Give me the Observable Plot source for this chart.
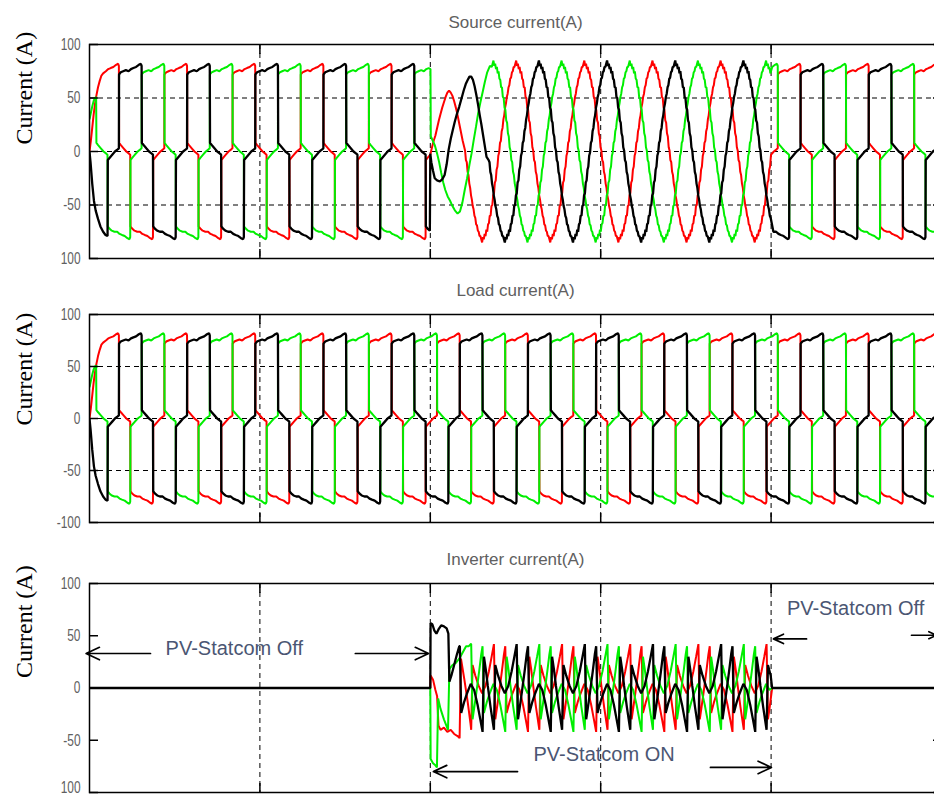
<!DOCTYPE html>
<html><head><meta charset="utf-8">
<script src="https://cdn.jsdelivr.net/npm/d3@7"></script>
<script src="https://cdn.jsdelivr.net/npm/@observablehq/plot@0.6"></script>
<style>
html,body{margin:0;padding:0;background:#fff;overflow:hidden;width:934px;height:798px;}
#chart{position:relative;width:934px;height:798px;overflow:hidden;background:#fff;}
.panel{position:absolute;left:0;}
</style></head><body><div id="chart"></div>
<script>
// ================= DATA =================
const periodMs = 20;                       // one mains cycle
const xDomainMs = [0, 250];
const xGridMs = [50, 100, 150, 200];
const yTickValues = [-100, -50, 0, 50, 100];
const srcTickLabels  = ["100", "-50", "0", "50", "100"];
const loadTickLabels = ["-100", "-50", "0", "50", "100"];
const invTickLabels  = ["100", "-50", "0", "50", "100"];
const titles = ["Source current(A)", "Load current(A)", "Inverter current(A)"];
const yLabel = "Current (A)";
// phase order = drawing order: red, green, black
const phaseColors = ["#ff0000", "#00ee00", "#000000"];

// load (rectifier) current: start of positive conduction of each phase, ms
const loadStartMs = [2.0, 15.33, 8.67];
// one cycle of load current, time from start of positive conduction (ms) / value (A)
const loadShapeT = [0, 0.5, 1.2, 2.0, 2.8, 3.5, 4.2, 5.0, 5.8, 6.4, 6.62, 6.7, 7.2, 8.0, 8.8, 9.6, 9.95,
                    10.03, 10.5, 11.2, 12.0, 12.8, 13.5, 14.2, 15.0, 15.8, 16.4, 16.62, 16.7, 17.2, 18.0, 18.8, 19.6, 19.95];
const loadShapeV = [72, 74, 75, 76, 75, 77, 78, 79, 81, 82, 80, 8, 6, 3, 0, -2, -3,
                    -70, -72, -74, -75, -75, -77, -78, -79, -81, -82, -80, -8, -6, -3, 0, 2, 3];
// start-up of the load current (t, A)
const loadStartupRed   = [[0,0],[0.4,10],[0.8,22],[1.2,34],[1.6,44],[2.0,52],[2.5,60],[3.0,66],[3.5,71],[4.0,73]];
const loadStartupGreen = [[0,30],[0.4,36],[0.8,42],[1.2,47],[1.6,50],[1.95,51]];
const loadStartupBlack = [[0,0],[0.3,-10],[0.8,-30],[1.3,-46],[1.8,-55],[2.5,-63],[3.2,-70],[4.0,-75],[4.7,-78],[5.3,-79]];
const loadJoinMs = [4.1, 1.96, 5.3];

// compensated source current: time of positive peak of each phase (ms)
const srcPeakMs = [5.2, 18.53, 11.87];
// one cycle, every 0.25 ms from the positive peak (A), with the switching ripple
const srcShapeStepMs = 0.25;
const srcShapeV = [
  85, 80, 82, 77, 79, 73, 75, 68, 67, 60, 60, 51, 50, 41, 39, 29, 27, 17, 14, 4, 1,
  -8, -10, -19, -22, -30, -34, -41, -45, -51, -54, -60, -62, -68, -69, -74, -75, -79, -79, -82, -85,
  -80, -82, -77, -79, -73, -75, -68, -67, -60, -60, -51, -50, -41, -39, -29, -27, -17, -14, -4, -1,
  8, 10, 19, 22, 30, 34, 41, 45, 51, 54, 60, 62, 68, 69, 74, 75, 79, 79, 82];
// transient of the source current when the PV-Statcom switches on (t, A)
const srcTransRed = [[100.0,-3],[100.5,4],[101.0,10],[101.5,15],[102.0,22],[102.5,29],[103.0,35],[103.5,41],[104.0,46],
  [104.5,51],[105.0,55],[105.5,57],[106.0,55],[106.5,52],[107.0,47],[107.5,41],[108.0,34],[108.5,26],[109.0,18],[109.5,10]];
const srcTransGreen = [[100.05,77],[100.15,14],[100.6,11],[101.3,6],[102.0,-2],[102.6,-10],[103.2,-20],[103.8,-29],[104.4,-36],
  [105.1,-42],[105.8,-46],[106.5,-51],[107.2,-55],[108.0,-58],[108.7,-56],[109.4,-48],[110.1,-36],[110.8,-25],[111.5,-12],
  [112.1,-2],[112.7,10],[113.4,23],[114.0,35],[114.7,46],[115.4,56],[116.0,65],[116.7,74],[117.5,80]];
const srcTransBlack = [[100.0,-2],[100.3,-10],[100.8,-18],[101.3,-25],[102.0,-27],[102.8,-28],[103.5,-26],[104.2,-22],
  [104.8,-12],[105.4,2],[106.0,12],[106.6,20],[107.2,28],[107.8,35],[108.5,42],[109.2,50],[109.8,57],[110.4,63],[111.0,67],
  [111.5,70],[112.0,70],[112.5,67],[113.0,61],[113.5,53],[114.0,44],[114.5,34],[115.0,25],[115.5,15],[116.0,5],[116.5,-5]];
const srcJoinMs = [110.0, 118.0, 117.0];

// inverter current: one cycle, time from start of positive load conduction (ms) / value (A)
const invShapeT = [0, 0.4, 1.2, 2.0, 3.2, 4.2, 5.2, 6.0, 6.67, 7.07, 7.6, 8.2, 9.0, 10.0,
                   10.4, 11.2, 12.2, 13.2, 14.2, 15.2, 16.0, 16.67, 17.07, 17.6, 18.2, 19.0, 19.6];
const invShapeV = [40, -24, -14, -6, 4, -2, -16, -30, -42, 30, 18, 2, -18, -40,
                   22, 12, 2, -5, 2, 16, 30, 42, -30, -18, -4, 16, 32];
const invTransRed = [[100,0],[100.08,12],[100.8,8],[101.5,-2],[102.0,-8],[102.4,-36],[103.0,-40],[104.0,-38],[105.0,-42],
  [106.0,-40],[107.0,-44],[108.0,-46],[108.6,-48],[109.0,28],[110.0,8],[111.0,-14],[111.8,-34]];
const invTransGreen = [[100,0],[100.1,-68],[100.8,-72],[101.5,-74],[101.95,-76],[102.3,-10],[103.0,-20],[104.0,-30],
  [105.2,-40],[105.6,18],[106.5,22],[107.5,24],[108.5,28],[109.5,34],[110.5,40],[111.3,40],[111.85,42]];
const invTransBlack = [[100,0],[100.08,62],[100.6,61],[101.2,55],[101.8,52],[102.4,56],[103.2,60],[104.0,59],[104.8,57],
  [105.3,52],[105.6,6],[106.2,12],[107.0,22],[107.8,32],[108.5,40]];
const invJoinMs = [111.95, 111.95, 108.6];

// annotations of the inverter panel (ms, A)
const annotTexts = [
  {t: 42.5, v: 38, label: "PV-Statcom Off"},
  {t: 151, v: -64, label: "PV-Statcom ON"},
  {t: 224.8, v: 76, label: "PV-Statcom Off"}
];
const annotArrows = [
  {t1: 17.9, v1: 33, t2: -1, v2: 33},
  {t1: 78, v1: 33, t2: 99.5, v2: 33},
  {t1: 125.6, v1: -80, t2: 100.9, v2: -80},
  {t1: 182.2, v1: -76, t2: 200.1, v2: -76},
  {t1: 210.4, v1: 47, t2: 200.7, v2: 47},
  {t1: 241.2, v1: 50.5, t2: 248.5, v2: 50.5}
];

// ================= BUILD SERIES =================
const pts = arr => arr.map(([t, v]) => ({t, v}));
const srcShapeT = srcShapeV.map((_, i) => i * srcShapeStepMs);
function periodic(shapeT, shapeV, offset, t0, t1) {
  const out = [];
  const k0 = Math.floor((t0 - offset) / periodMs) - 1;
  const k1 = Math.ceil((t1 - offset) / periodMs) + 1;
  for (let k = k0; k <= k1; k++)
    for (let i = 0; i < shapeT.length; i++) {
      const t = offset + k * periodMs + shapeT[i];
      if (t > t0 && t < t1) out.push({t, v: shapeV[i]});
    }
  return out;
}
const loadStartups = [loadStartupRed, loadStartupGreen, loadStartupBlack];
const srcTrans = [srcTransRed, srcTransGreen, srcTransBlack];
const invTrans = [invTransRed, invTransGreen, invTransBlack];

const loadSeries = [0,1,2].map(i => [
  ...pts(loadStartups[i]),
  ...periodic(loadShapeT, loadShapeV, loadStartMs[i], loadJoinMs[i], 251)
]);
const srcSeries = [0,1,2].map(i => [
  ...loadSeries[i].filter(p => p.t < 99.98),
  ...pts(srcTrans[i]),
  ...periodic(srcShapeT, srcShapeV, srcPeakMs[i], srcJoinMs[i], 200),
  ...loadSeries[i].filter(p => p.t >= 200)
]);
const invSeries = [0,1,2].map(i => [
  {t: 0, v: 0},
  ...pts(invTrans[i]),
  ...periodic(invShapeT, invShapeV, loadStartMs[i], invJoinMs[i], 200),
  {t: 200.3, v: 0}, {t: 251, v: 0}
]);

// ================= DRAW =================
const SANS = "'Liberation Sans',Arial,sans-serif";
const W = 960, ML = 89, MR = 19;

// narrow lettering: squeeze by a factor, or to a width in px
function squeeze(svg, selector, factor, spacing, widths) {
  svg.querySelectorAll(selector).forEach((el, i) => {
    if (spacing) el.style.letterSpacing = spacing + "px";
    const len = el.getComputedTextLength();
    if (len > 0) {
      const target = widths ? widths[i] : len * factor;
      el.setAttribute("textLength", target.toFixed(2));
      el.setAttribute("lengthAdjust", "spacingAndGlyphs");
    }
  });
}

function makePanel(cfg) {
  const marks = [];
  if (cfg.hGrid) marks.push(Plot.ruleY(yTickValues, {stroke: "#000", strokeWidth: 1, strokeDasharray: "5,4"}));
  marks.push(Plot.ruleX(xGridMs, {stroke: "#000", strokeWidth: 1, strokeDasharray: "5,4"}));
  cfg.series.forEach((s, i) => marks.push(Plot.line(s, {
    x: "t", y: "v", stroke: phaseColors[i], strokeWidth: i === 2 ? 2.3 : 2, clip: true,
    strokeLinejoin: "miter", strokeLinecap: "butt"
  })));
  if (cfg.annot) {
    marks.push(Plot.arrow(annotArrows, {x1: "t1", y1: "v1", x2: "t2", y2: "v2", stroke: "#000",
      strokeWidth: 1.7, headLength: 13, headAngle: 50}));
    marks.push(Plot.text(annotTexts, {x: "t", y: "v", text: "label", fill: "#4b5673",
      fontSize: 20, fontFamily: SANS, ariaLabel: "annot"}));
  }
  marks.push(Plot.frame({stroke: "#000", strokeWidth: 1.5}));
  const lab = new Map(yTickValues.map((d, i) => [d, cfg.tickLabels[i]]));
  marks.push(Plot.axisY(yTickValues, {anchor: "left", tickSize: -9, tickPadding: 18,
    tickFormat: d => lab.get(d), stroke: "#000", strokeWidth: 1.5, fill: "#606060",
    fontSize: 17, fontFamily: SANS, label: null}));
  marks.push(Plot.axisY(yTickValues, {anchor: "right", tickSize: -9, tickFormat: () => "",
    stroke: "#000", strokeWidth: 1.5, label: null}));
  marks.push(Plot.axisX(xGridMs, {anchor: "top", tickSize: -9, tickFormat: () => "",
    stroke: "#000", strokeWidth: 1.5, label: null}));
  marks.push(Plot.axisX(xGridMs, {anchor: "bottom", tickSize: -9, tickFormat: () => "",
    stroke: "#000", strokeWidth: 1.5, label: null}));
  marks.push(Plot.text([cfg.title], {frameAnchor: "top", dy: cfg.titleDy, text: d => d,
    fill: "#606060", fontSize: 17, fontFamily: SANS, lineAnchor: "middle", ariaLabel: "title"}));
  marks.push(Plot.text([yLabel], {frameAnchor: "left", dx: -65, dy: cfg.labelDy, rotate: -90, text: d => d,
    fill: "#000", fontSize: 24, fontFamily: "'Liberation Serif','DejaVu Serif',serif", lineAnchor: "middle"}));
  const svg = Plot.plot({
    width: W, height: cfg.height,
    marginLeft: ML, marginRight: MR, marginTop: cfg.mt, marginBottom: cfg.mb,
    x: {domain: xDomainMs}, y: {domain: [-100, 100]},
    style: {background: "transparent", overflow: "visible", fontFamily: SANS, maxWidth: "none"},
    marks
  });
  const div = document.createElement("div");
  div.className = "panel";
  div.style.top = cfg.top + "px";
  div.appendChild(svg);
  document.getElementById("chart").appendChild(div);
  squeeze(svg, 'g[aria-label*="tick label"] text', 0.7, 0);
  squeeze(svg, 'g[aria-label="title"] text', 0, 2, [cfg.titleWidth]);
  squeeze(svg, 'g[aria-label="annot"] text', 0, 1.5, [128, 127, 127]);
  if (cfg.liftBottomLabel) {
    // keep the lowest tick label inside the page
    let low = null, lowY = -Infinity;
    svg.querySelectorAll('g[aria-label*="tick label"] text').forEach(el => {
      if (!el.textContent) return;
      const r = el.getBoundingClientRect();
      if (r.top > lowY) { lowY = r.top; low = el; }
    });
    if (low) low.setAttribute("y", "0.05em");
  }
}

makePanel({title: titles[0], series: srcSeries, tickLabels: srcTickLabels, hGrid: true,
  top: 0, height: 270, mt: 44, mb: 12, titleDy: -22, labelDy: -7, titleWidth: 140});
makePanel({title: titles[1], series: loadSeries, tickLabels: loadTickLabels, hGrid: true,
  top: 270, height: 262, mt: 44, mb: 10, titleDy: -24, labelDy: 7, titleWidth: 126});
makePanel({title: titles[2], series: invSeries, tickLabels: invTickLabels, hGrid: false, annot: true,
  top: 540, height: 258, mt: 43, mb: 6, titleDy: -24, labelDy: -10, titleWidth: 140, liftBottomLabel: true});
</script></body></html>
